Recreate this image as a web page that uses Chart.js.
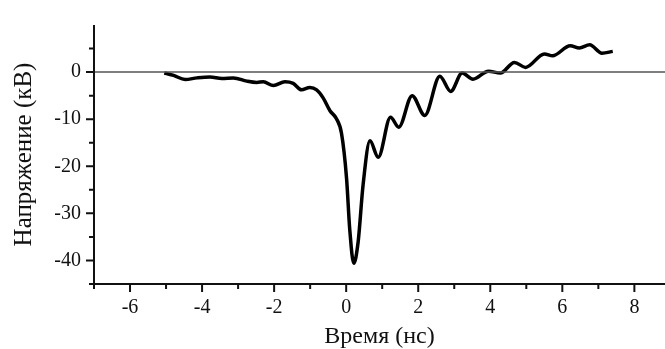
<!DOCTYPE html>
<html>
<head>
<meta charset="utf-8">
<script src="https://cdn.jsdelivr.net/npm/chart.js@4/dist/chart.umd.min.js"></script>
<style>
  html, body { margin: 0; padding: 0; background: #fff; }
  #wrap { width: 665px; height: 349px; }
</style>
</head>
<body>
<div id="wrap"><canvas id="pulseChart"></canvas></div>
<script>
// time (ns) and voltage (kV)
const timeNs = [-5.05, -4.79, -4.47, -4.14, -3.78, -3.45, -3.13, -2.76, -2.48, -2.30, -2.02, -1.70, -1.47, -1.24, -1.01, -0.82, -0.64, -0.45, -0.27, -0.13, 0.01, 0.10, 0.21, 0.33, 0.47, 0.66, 0.89, 1.23, 1.46, 1.83, 2.18, 2.60, 2.90, 3.22, 3.52, 3.95, 4.28, 4.67, 4.98, 5.50, 5.73, 6.22, 6.47, 6.76, 7.10, 7.40];
const voltageKv = [-0.2, -0.7, -1.58, -1.23, -1.03, -1.37, -1.23, -1.92, -2.2, -2.05, -2.87, -2.05, -2.4, -3.77, -3.28, -3.77, -5.47, -8.2, -9.9, -13, -22.5, -33.5, -40.6, -36.2, -23.9, -14.6, -18.1, -9.6, -11.7, -5.0, -9.2, -0.9, -4.1, -0.2, -1.5, 0.2, -0.2, 2.05, 1.0, 3.85, 3.45, 5.6, 5.1, 5.8, 4.0, 4.4];

const xTicks = [-6, -4, -2, 0, 2, 4, 6, 8];
const xMinorTicks = [-7, -5, -3, -1, 1, 3, 5, 7];
const yTicks = [0, -10, -20, -30, -40];
const yMinorTicks = [5, -5, -15, -25, -35, -45];

const points = timeNs.map((t, i) => ({ x: t, y: voltageKv[i] }));
const serif = "'Liberation Serif', 'Times New Roman', serif";

// zero line plus outward major/minor tick marks
const axisMarks = {
    id: 'axisMarks',
    afterDraw(chart) {
        const { ctx, chartArea, scales } = chart;
        const xs = scales.x, ys = scales.y;
        ctx.save();
        ctx.strokeStyle = '#555';
        ctx.lineWidth = 1.5;
        const y0 = ys.getPixelForValue(0);
        ctx.beginPath();
        ctx.moveTo(chartArea.left, y0);
        ctx.lineTo(chartArea.right, y0);
        ctx.stroke();

        ctx.strokeStyle = '#111';
        ctx.lineWidth = 2;
        ctx.beginPath();
        ctx.moveTo(chartArea.left, chartArea.top);
        ctx.lineTo(chartArea.left, chartArea.bottom);
        ctx.lineTo(chartArea.right, chartArea.bottom);
        ctx.stroke();

        ctx.beginPath();
        xTicks.forEach(v => {
            const px = xs.getPixelForValue(v);
            ctx.moveTo(px, chartArea.bottom); ctx.lineTo(px, chartArea.bottom + 8);
        });
        xMinorTicks.forEach(v => {
            const px = xs.getPixelForValue(v);
            ctx.moveTo(px, chartArea.bottom); ctx.lineTo(px, chartArea.bottom + 5);
        });
        yTicks.forEach(v => {
            const py = ys.getPixelForValue(v);
            ctx.moveTo(chartArea.left, py); ctx.lineTo(chartArea.left - 8, py);
        });
        yMinorTicks.forEach(v => {
            const py = ys.getPixelForValue(v);
            ctx.moveTo(chartArea.left, py); ctx.lineTo(chartArea.left - 5, py);
        });
        ctx.stroke();
        ctx.restore();
    }
};

new Chart(document.getElementById('pulseChart'), {
    type: 'scatter',
    data: {
        datasets: [{
            data: points,
            showLine: true,
            borderColor: '#000',
            borderWidth: 3.5,
            pointRadius: 0,
            cubicInterpolationMode: 'monotone',
            fill: false
        }]
    },
    plugins: [axisMarks],
    options: {
        responsive: true,
        maintainAspectRatio: false,
        animation: false,
        layout: { padding: { top: 14, right: 0, left: 0, bottom: 0 } },
        plugins: { legend: { display: false }, tooltip: { enabled: false } },
        scales: {
            x: {
                type: 'linear',
                min: -7,
                max: 8.85,
                afterFit: s => { s.height = 65; },
                afterBuildTicks: s => { s.ticks = xTicks.map(v => ({ value: v })); },
                grid: { display: false, drawTicks: false },
                border: { display: false },
                ticks: {
                    color: '#111',
                    padding: 12,
                    maxRotation: 0,
                    font: { family: serif, size: 20 }
                },
                title: {
                    display: true,
                    text: 'Время (нс)',
                    color: '#111',
                    font: { family: serif, size: 24, lineHeight: 1 },
                    padding: { top: 0, bottom: 0 }
                }
            },
            y: {
                type: 'linear',
                min: -45,
                max: 10,
                afterFit: s => { s.width = 94; },
                afterBuildTicks: s => { s.ticks = yTicks.map(v => ({ value: v })); },
                grid: { display: false, drawTicks: false },
                border: { display: false },
                ticks: {
                    color: '#111',
                    padding: 13,
                    font: { family: serif, size: 20 }
                },
                title: {
                    display: true,
                    text: 'Напряжение (кВ)',
                    color: '#111',
                    font: { family: serif, size: 25, lineHeight: 1 },
                    padding: { top: 12, bottom: 0 }
                }
            }
        }
    }
});
</script>
</body>
</html>
